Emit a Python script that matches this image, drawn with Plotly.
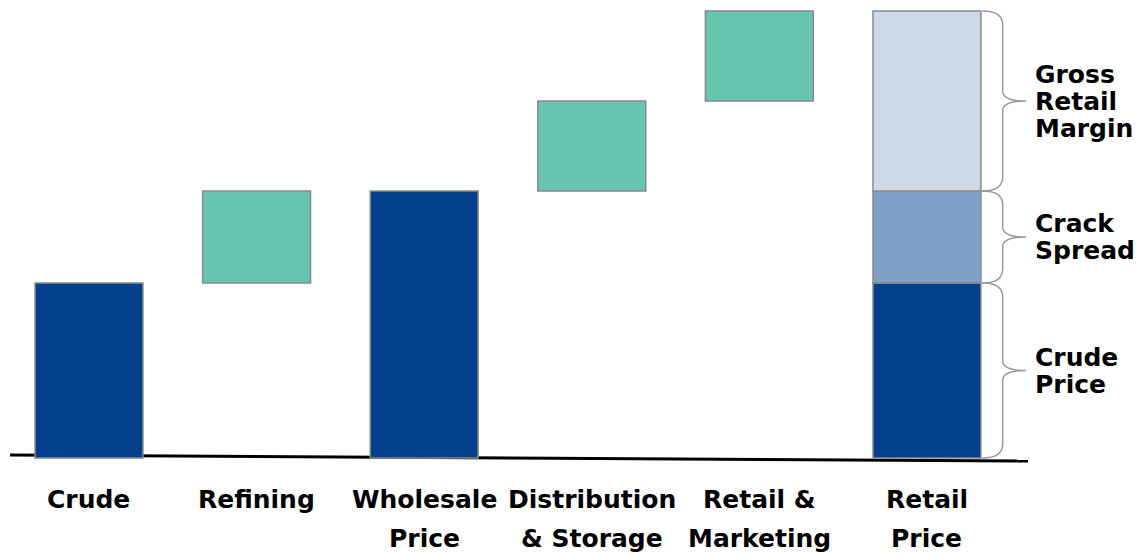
import plotly.graph_objects as go

# ---- data ----
steps = ["Crude", "Refining", "Wholesale<br>Price", "Distribution<br>& Storage",
         "Retail &<br>Marketing", "Retail<br>Price"]
crude_price = 1.75
refining_cost = 0.92
distribution_cost = 0.90
marketing_cost = 0.90
retail_parts = ["Crude<br>Price", "Crack<br>Spread", "Gross<br>Retail<br>Margin"]

# ---- derived waterfall ----
wholesale_price = crude_price + refining_cost
heights = [crude_price, refining_cost, wholesale_price, distribution_cost, marketing_cost]
bases = [0, crude_price, 0, wholesale_price, wholesale_price + distribution_cost]
kinds = ["total", "step", "total", "step", "step"]

DARK = "#03408C"
TEAL = "#66C6B0"
CRACK = "#7FA0C7"
LIGHT = "#CDD9E9"
EDGE = "#8A8A8A"
BAR_W = 0.644
FONT = "DejaVu Sans"
FS = 25

fig = go.Figure()
fig.add_trace(go.Bar(
    x=list(range(len(heights))), y=heights, base=bases, width=BAR_W,
    marker=dict(color=[DARK if k == "total" else TEAL for k in kinds],
                line=dict(color=EDGE, width=1.5)),
    hoverinfo="skip"))

retail_vals = [crude_price, refining_cost, distribution_cost + marketing_cost]
retail_cols = [DARK, CRACK, LIGHT]
retail_bases = [0, retail_vals[0], retail_vals[0] + retail_vals[1]]
for v, b, c in zip(retail_vals, retail_bases, retail_cols):
    fig.add_trace(go.Bar(x=[5], y=[v], base=[b], width=BAR_W,
                         marker=dict(color=c, line=dict(color=EDGE, width=1.5)),
                         hoverinfo="skip"))

# baseline (slightly sloped as in the reference)
fig.add_shape(type="line", x0=-0.471, x1=5.603, y0=0.03, y1=-0.03,
              line=dict(color="black", width=3), layer="below")

# braces + side labels
xe = 5 + BAR_W / 2
x0b, x1b, x2b = xe + 0.008, xe + 0.13, xe + 0.27
r = 0.14
LS_SIDE = 0.27
for v, b, lab in zip(retail_vals, retail_bases, retail_parts):
    y0, y1 = b, b + v
    ym = (y0 + y1) / 2
    path = (f"M {x0b},{y1} Q {x1b},{y1} {x1b},{y1 - r} L {x1b},{ym + r * 0.7} "
            f"Q {x1b},{ym} {x2b},{ym} Q {x1b},{ym} {x1b},{ym - r * 0.7} "
            f"L {x1b},{y0 + r} Q {x1b},{y0} {x0b},{y0}")
    fig.add_shape(type="path", path=path, line=dict(color="#9A9A9A", width=1.5))
    lines = lab.split("<br>")
    n = len(lines)
    for i, t in enumerate(lines):
        yy = ym + (n - 1) / 2 * LS_SIDE - i * LS_SIDE
        fig.add_annotation(x=5.632, y=yy, text=t, showarrow=False,
                           xanchor="left", yanchor="middle",
                           font=dict(family=FONT, size=FS, color="black", weight="bold"))

# category labels under the bars
LS_CAT = 0.39
for i, s in enumerate(steps):
    for j, t in enumerate(s.split("<br>")):
        fig.add_annotation(x=i, y=-0.41 - j * LS_CAT, text=t, showarrow=False,
                           xanchor="center", yanchor="middle",
                           font=dict(family=FONT, size=FS, color="black", weight="bold"))

fig.update_layout(
    width=1145, height=557, margin=dict(l=0, r=0, t=0, b=0),
    paper_bgcolor="white", plot_bgcolor="white",
    barmode="overlay", showlegend=False,
    xaxis=dict(visible=False, range=[-0.531, 6.301], fixedrange=True),
    yaxis=dict(visible=False, range=[-0.99, 4.58], fixedrange=True),
)

fig.write_html("out.html")
